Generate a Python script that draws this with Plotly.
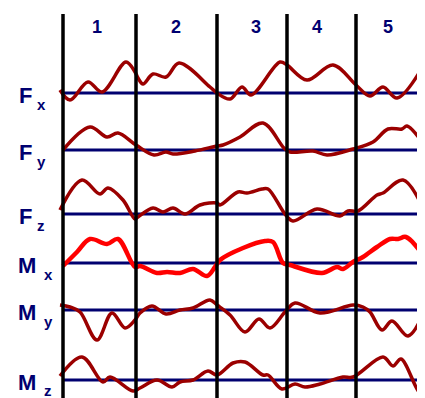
import plotly.graph_objects as go

# ---- data (time units along the record, amplitudes in signal units; positive = up) ----
row_names = ["F", "F", "F", "M", "M", "M"]
row_subs = ["x", "y", "z", "x", "y", "z"]
col_labels = ["1", "2", "3", "4", "5"]
col_bounds = [63, 136, 217, 287, 356]

fx_t = [60, 70, 88, 102, 126, 135, 138, 143, 153, 166, 179, 210, 217, 230, 242, 251, 280, 287, 307, 333, 356, 370, 383, 397, 425]
fx_v = [3, -7, 11, 1, 31, 21, 15, 9, 19, 16, 30, 6, 0, -6, 6, -2, 31, 28, 13, 28, 8, -3, 6, -5, 30]

fy_t = [63, 90, 107, 118, 136, 154, 166, 173, 195, 217, 223, 240, 263, 284, 290, 313, 327, 353, 373, 388, 402, 407, 425]
fy_v = [0, 23, 13, 17, 5, -5, -2, -4, -1, 4, 5, 13, 27, 2, -2, -1, -5, 1, 8, 21, 21, 24, 4]

fz_t = [60, 82, 100, 108, 123, 135, 138, 153, 163, 173, 185, 200, 217, 220, 238, 247, 262, 268, 285, 293, 317, 340, 348, 358, 377, 383, 403, 425]
fz_v = [4, 34, 20, 26, 14, -5, -3, 6, 2, 6, 0, 9, 11, 9, 22, 21, 25, 25, 0, -7, 5, -2, 3, 3, 19, 21, 34, 2]

mx_t = [63, 77, 90, 107, 118, 135, 140, 157, 167, 180, 193, 207, 215, 220, 243, 265, 273, 283, 290, 322, 337, 343, 353, 363, 377, 390, 398, 406, 425]
mx_v = [-3, 11, 24, 19, 24, -4, -3, -10, -9, -10, -6, -13, -4, 3, 15, 22, 21, 0, -2, -10, -4, -6, 1, 6, 16, 24, 24, 26, 5]

my_t = [60, 70, 80, 97, 112, 125, 135, 140, 152, 166, 180, 193, 210, 217, 230, 245, 259, 270, 285, 295, 320, 353, 363, 370, 382, 392, 408, 425]
my_v = [5, 3, -2, -30, -3, -18, -10, -3, 4, -4, 0, 2, 10, 5, -5, -22, -9, -18, -2, 7, -3, 5, 3, -2, -20, -11, -26, 0]

mz_t = [60, 82, 103, 110, 133, 140, 157, 172, 180, 193, 208, 217, 233, 245, 263, 268, 282, 295, 305, 320, 343, 353, 383, 393, 401, 420, 425]
mz_v = [4, 23, -2, 3, -11, -8, 0, -7, -2, 0, 9, 5, 17, 18, 5, 5, -9, -4, -7, -4, 3, 3, 23, 14, 21, -13, -13]

series_t = [fx_t, fy_t, fz_t, mx_t, my_t, mz_t]
series_v = [fx_v, fy_v, fz_v, mx_v, my_v, mz_v]

# ---- layout / style ----
row_base = [93, 150, 214, 263, 310, 380]
row_colors = ["#9B0000", "#9B0000", "#9B0000", "#FF0000", "#9B0000", "#9B0000"]
row_widths = [3.5, 3.5, 3.5, 4.5, 3.5, 3.5]
col_label_x = [97, 176, 256, 317, 388]
navy = "#000070"
PAGE_OFF = 8  # browser body margin

fig = go.Figure()

# baselines
for b in row_base:
    fig.add_shape(type="line", x0=col_bounds[0], x1=430, y0=b, y1=b,
                  xref="x", yref="y", line=dict(color=navy, width=3), layer="below")

# curves
for t, v, b, c, w in zip(series_t, series_v, row_base, row_colors, row_widths):
    fig.add_trace(go.Scatter(x=t, y=[b - a for a in v], mode="lines",
                             line=dict(color=c, width=w, shape="spline", smoothing=1.0),
                             hoverinfo="skip", showlegend=False, cliponaxis=False))

# column separators
for xb in col_bounds:
    fig.add_shape(type="line", x0=xb, x1=xb, y0=14, y1=405, xref="x", yref="y",
                  line=dict(color="black", width=3.5), layer="above")

# column numbers
for lab, xc in zip(col_labels, col_label_x):
    fig.add_annotation(x=xc, y=27, text="<b>%s</b>" % lab, showarrow=False, xref="x", yref="y",
                       font=dict(family="Liberation Sans, Arial", size=18, color=navy),
                       xanchor="center", yanchor="middle")

# row labels
for i, (name, sub, b) in enumerate(zip(row_names, row_subs, row_base)):
    main_x = 25 if name == "F" else 27
    sub_x = 41 if name == "F" else 48
    sub_dy = 10 if i == 5 else 11
    fig.add_annotation(x=main_x, y=b + 2, text="<b>%s</b>" % name, showarrow=False,
                       xref="x", yref="y", xanchor="center", yanchor="middle",
                       font=dict(family="Liberation Sans, Arial", size=22, color=navy))
    fig.add_annotation(x=sub_x, y=b + sub_dy, text="<b>%s</b>" % sub, showarrow=False,
                       xref="x", yref="y", xanchor="center", yanchor="middle",
                       font=dict(family="Liberation Sans, Arial", size=15, color=navy))

fig.update_layout(
    width=425 - PAGE_OFF, height=398 - PAGE_OFF,
    margin=dict(l=0, r=0, t=0, b=0),
    paper_bgcolor="white", plot_bgcolor="white",
    xaxis=dict(range=[PAGE_OFF, 425], visible=False, fixedrange=True),
    yaxis=dict(range=[398, PAGE_OFF], visible=False, fixedrange=True),
)

fig.write_html("out.html")
